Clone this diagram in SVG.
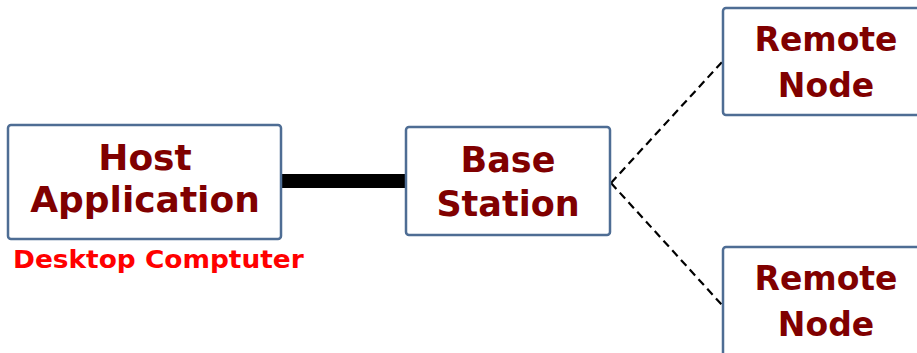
<svg xmlns="http://www.w3.org/2000/svg" width="917" height="353" viewBox="0 0 917 353">
<style>
.box{fill:#ffffff;stroke:#4e6d94;stroke-width:2.5}
.lbl{font-family:"DejaVu Sans",Verdana,sans-serif;font-weight:bold;fill:#800000;text-anchor:middle}
.sub{font-family:"DejaVu Sans",Verdana,sans-serif;font-weight:bold;fill:#ff0000;font-size:24px}
.dash{stroke:#000000;stroke-width:2.2;stroke-dasharray:8,5;fill:none}
</style>
<rect width="917" height="353" fill="#ffffff"/>
<g id="connectors">
<line x1="281" y1="181" x2="406" y2="181" stroke="#000000" stroke-width="14"/>
<line class="dash" x1="611" y1="183" x2="722" y2="62"/>
<line class="dash" x1="611" y1="183" x2="722" y2="305"/>
</g>
<g id="host">
<rect class="box" x="8" y="125" width="273" height="114" rx="3"/>
<text class="lbl" x="145" y="170" font-size="36">Host</text>
<text class="lbl" x="145" y="212" font-size="36">Application</text>
<text class="sub" transform="translate(13,268) scale(1.1,1)">Desktop Comptuter</text>
</g>
<g id="base">
<rect class="box" x="406" y="127" width="204" height="108" rx="3"/>
<text class="lbl" x="508" y="172" font-size="35">Base</text>
<text class="lbl" x="508" y="216" font-size="35">Station</text>
</g>
<g id="remote1">
<rect class="box" x="723" y="8" width="206" height="107" rx="3"/>
<text class="lbl" x="826" y="51" font-size="33">Remote</text>
<text class="lbl" x="826" y="97" font-size="33">Node</text>
</g>
<g id="remote2">
<rect class="box" x="723" y="247" width="206" height="120" rx="3"/>
<text class="lbl" x="826" y="290" font-size="33">Remote</text>
<text class="lbl" x="826" y="336" font-size="33">Node</text>
</g>
</svg>
